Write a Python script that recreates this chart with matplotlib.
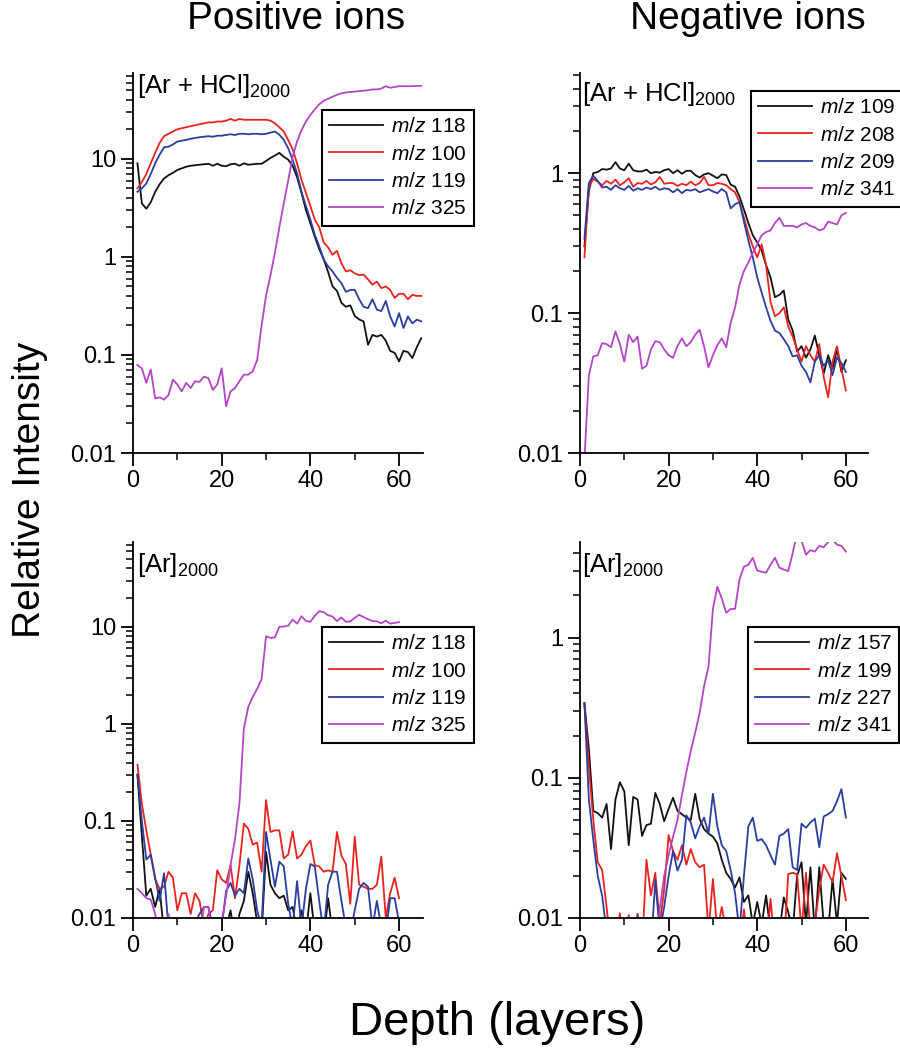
import numpy as np
import matplotlib.pyplot as plt
from matplotlib.ticker import FixedLocator, FuncFormatter, LogLocator, NullFormatter

plt.rcParams['font.family'] = ['Liberation Sans', 'DejaVu Sans']
plt.rcParams['mathtext.fontset'] = 'custom'
plt.rcParams['mathtext.rm'] = 'Liberation Sans'
plt.rcParams['mathtext.it'] = 'Liberation Sans:italic'

# ---- data (relative intensity vs depth in layers) ----
# positive ions, [Ar + HCl]2000, depth 1..65
tl_118 = [9.0, 3.5, 3.1, 3.6, 4.6, 5.5, 6.3, 6.8, 7.2, 7.7,
          8.0, 8.3, 8.5, 8.6, 8.7, 8.8, 8.9, 8.5, 8.9, 8.5,
          8.4, 8.8, 8.9, 8.5, 9.0, 8.7, 8.8, 8.9, 8.9, 9.5,
          10.2, 10.8, 11.5, 10.5, 9.8, 8.5, 6.5, 4.5, 3.0, 2.2,
          1.6, 1.2, 0.95, 0.7, 0.5, 0.45, 0.34, 0.31, 0.32, 0.25,
          0.23, 0.22, 0.127, 0.16, 0.154, 0.16, 0.14, 0.11, 0.105, 0.086,
          0.11, 0.107, 0.093, 0.12, 0.148]
tl_100 = [5.0, 5.8, 7.0, 9.0, 11.5, 14.5, 17.0, 18.0, 19.0, 20.0,
          20.5, 21.0, 21.5, 22.0, 22.5, 23.0, 23.5, 23.5, 24.0, 24.0,
          24.5, 25.5, 24.5, 25.5, 25.0, 25.0, 25.0, 25.0, 25.0, 25.0,
          24.5, 23.0, 21.0, 19.0, 15.5, 12.5, 9.0, 6.1, 4.5, 3.3,
          2.4, 2.0, 1.4, 1.25, 1.05, 1.15, 0.86, 0.71, 0.73, 0.68,
          0.65, 0.66, 0.59, 0.52, 0.56, 0.48, 0.5, 0.46, 0.38, 0.42,
          0.42, 0.37, 0.41, 0.40, 0.40]
tl_119 = [4.6, 5.0, 5.6, 7.0, 9.0, 11.0, 13.1, 13.3, 14.0, 15.0,
          15.3, 15.6, 16.0, 16.3, 16.6, 16.8, 17.0, 16.8, 17.2, 17.2,
          17.5, 17.8, 17.5, 18.0, 18.0, 17.8, 18.0, 18.0, 17.8, 18.0,
          18.5, 19.0, 17.6, 15.6, 12.8, 9.8, 7.1, 4.6, 3.3, 2.4,
          1.68, 1.28, 0.94, 0.8, 0.71, 0.61, 0.54, 0.44, 0.46, 0.46,
          0.37, 0.31, 0.30, 0.37, 0.29, 0.28, 0.355, 0.247, 0.195, 0.267,
          0.188, 0.247, 0.21, 0.229, 0.22]
tl_325 = [0.079, 0.073, 0.052, 0.071, 0.036, 0.037, 0.035, 0.039, 0.056, 0.050,
          0.0425, 0.052, 0.046, 0.054, 0.053, 0.060, 0.058, 0.044, 0.050, 0.073,
          0.030, 0.0425, 0.046, 0.054, 0.063, 0.063, 0.068, 0.089, 0.2, 0.4,
          0.65, 1.1, 2.0, 3.5, 6.0, 10.5, 15.0, 19.5, 24.0, 28.0,
          32.0, 36.0, 39.0, 41.0, 43.0, 45.0, 46.5, 47.5, 48.0, 48.5,
          49.0, 49.5, 50.0, 51.0, 51.0, 52.0, 55.0, 53.0, 54.0, 55.0,
          55.0, 55.0, 55.0, 55.5, 55.5]

# negative ions, [Ar + HCl]2000, depth 1..60
tr_109 = [0.30, 0.75, 1.0, 1.02, 1.07, 1.06, 1.08, 1.2, 1.08, 1.05,
          1.17, 1.05, 1.03, 1.03, 1.06, 1.0, 1.02, 1.01, 1.05, 1.07,
          1.0, 1.05, 0.99, 1.04, 1.04, 0.97, 0.93, 0.98, 1.0, 0.96,
          0.92, 0.98, 0.97, 0.83, 0.80, 0.68, 0.55, 0.44, 0.36, 0.32,
          0.28, 0.22, 0.18, 0.13, 0.135, 0.145, 0.09, 0.075, 0.053, 0.058,
          0.048, 0.055, 0.069, 0.05, 0.037, 0.05, 0.04, 0.055, 0.038, 0.046]
tr_208 = [0.25, 0.8, 0.91, 0.87, 0.82, 0.88, 0.84, 0.9, 0.82, 0.86,
          0.92, 0.8, 0.85, 0.84, 0.88, 0.83, 0.86, 0.94, 0.84, 0.85,
          0.85, 0.81, 0.84, 0.82, 0.87, 0.82, 0.85, 0.94, 0.82, 0.82,
          0.85, 0.84, 0.82, 0.77, 0.73, 0.62, 0.48, 0.37, 0.30, 0.25,
          0.31, 0.22, 0.12, 0.095, 0.10, 0.11, 0.08, 0.068, 0.055, 0.045,
          0.058, 0.05, 0.045, 0.06, 0.035, 0.025, 0.045, 0.058, 0.04, 0.028]
tr_209 = [0.34, 0.85, 0.96, 0.88, 0.79, 0.8, 0.76, 0.82, 0.78, 0.76,
          0.81, 0.75, 0.78, 0.76, 0.79, 0.77, 0.8, 0.76, 0.78, 0.77,
          0.73, 0.77, 0.72, 0.76, 0.75, 0.77, 0.73, 0.75, 0.77, 0.74,
          0.72, 0.77, 0.73, 0.56, 0.6, 0.62, 0.45, 0.33, 0.25, 0.18,
          0.14, 0.11, 0.088, 0.075, 0.072, 0.065, 0.058, 0.049, 0.05, 0.042,
          0.038, 0.032, 0.045, 0.05, 0.042, 0.046, 0.036, 0.048, 0.044, 0.038]
tr_341 = [0.009, 0.036, 0.049, 0.05, 0.061, 0.06, 0.057, 0.074, 0.06, 0.045,
          0.07, 0.062, 0.068, 0.04, 0.042, 0.055, 0.063, 0.062, 0.055, 0.05,
          0.048, 0.058, 0.066, 0.058, 0.062, 0.07, 0.076, 0.058, 0.041, 0.05,
          0.059, 0.066, 0.057, 0.085, 0.11, 0.16, 0.2, 0.23, 0.27, 0.31,
          0.36, 0.38, 0.39, 0.44, 0.48, 0.42, 0.42, 0.42, 0.41, 0.43,
          0.44, 0.42, 0.41, 0.39, 0.40, 0.45, 0.44, 0.43, 0.50, 0.52]

# positive ions, [Ar]2000, depth 1..60
bl_118 = [0.3, 0.07, 0.017, 0.02, 0.013, 0.02, 0.007, 0.007, 0.006, 0.006,
          0.006, 0.006, 0.006, 0.006, 0.006, 0.006, 0.006, 0.006, 0.006, 0.006,
          0.008, 0.012, 0.006, 0.011, 0.015, 0.03, 0.018, 0.009, 0.007, 0.048,
          0.022, 0.018, 0.016, 0.017, 0.012, 0.013, 0.007, 0.012, 0.007, 0.018,
          0.007, 0.006, 0.006, 0.016, 0.007, 0.006, 0.006, 0.006, 0.006, 0.006,
          0.006, 0.006, 0.006, 0.006, 0.006, 0.006, 0.006, 0.006, 0.006, 0.006]
bl_100 = [0.38, 0.15, 0.08, 0.045, 0.025, 0.02, 0.021, 0.03, 0.026, 0.012,
          0.018, 0.018, 0.011, 0.018, 0.015, 0.008, 0.011, 0.012, 0.031, 0.025,
          0.023, 0.035, 0.016, 0.035, 0.094, 0.083, 0.057, 0.06, 0.03, 0.164,
          0.077, 0.08, 0.08, 0.041, 0.045, 0.078, 0.041, 0.045, 0.055, 0.063,
          0.035, 0.034, 0.03, 0.031, 0.03, 0.077, 0.044, 0.036, 0.014, 0.069,
          0.022, 0.021, 0.02, 0.02, 0.022, 0.043, 0.01, 0.018, 0.026, 0.016]
bl_119 = [0.3, 0.1, 0.04, 0.045, 0.026, 0.015, 0.029, 0.008, 0.007, 0.006,
          0.007, 0.006, 0.007, 0.009, 0.011, 0.013, 0.013, 0.008, 0.006, 0.008,
          0.019, 0.023, 0.017, 0.02, 0.018, 0.041, 0.025, 0.012, 0.008, 0.077,
          0.04, 0.021, 0.038, 0.034, 0.014, 0.008, 0.024, 0.008, 0.02, 0.036,
          0.034, 0.015, 0.007, 0.022, 0.03, 0.03, 0.015, 0.008, 0.007, 0.012,
          0.02, 0.023, 0.021, 0.008, 0.015, 0.008, 0.007, 0.016, 0.016, 0.009]
bl_325 = [0.02, 0.018, 0.016, 0.0155, 0.011, 0.006, 0.006, 0.011, 0.006, 0.006,
          0.006, 0.006, 0.006, 0.006, 0.006, 0.013, 0.013, 0.006, 0.006, 0.009,
          0.017, 0.035, 0.065, 0.15, 0.9, 1.5, 1.9, 2.3, 2.9, 8.0,
          7.7, 7.8, 10.0, 10.1, 10.3, 11.9, 10.8, 12.9, 11.5, 11.3,
          13.0, 14.5, 14.2, 13.2, 12.8, 11.5, 12.5, 11.3, 11.4, 12.4,
          13.3, 12.6, 12.0, 11.5, 11.4, 10.9, 11.6, 10.8, 11.0, 11.2]

# negative ions, [Ar]2000, depth 1..60
br_157 = [0.34, 0.16, 0.058, 0.056, 0.052, 0.065, 0.031, 0.07, 0.093, 0.08,
          0.033, 0.073, 0.07, 0.0385, 0.046, 0.047, 0.078, 0.065, 0.049, 0.06,
          0.072, 0.058, 0.055, 0.052, 0.05, 0.077, 0.051, 0.043, 0.04, 0.038,
          0.034, 0.026, 0.021, 0.019, 0.0165, 0.0195, 0.013, 0.0145, 0.009, 0.013,
          0.009, 0.0145, 0.008, 0.008, 0.008, 0.014, 0.011, 0.008, 0.02, 0.025,
          0.009, 0.023, 0.008, 0.023, 0.009, 0.008, 0.019, 0.009, 0.021, 0.019]
br_199 = [0.34, 0.12, 0.05, 0.025, 0.022, 0.012, 0.006, 0.006, 0.0108, 0.006,
          0.0105, 0.006, 0.0107, 0.006, 0.026, 0.0145, 0.021, 0.009, 0.016, 0.039,
          0.03, 0.026, 0.033, 0.024, 0.031, 0.025, 0.023, 0.024, 0.008, 0.019,
          0.008, 0.012, 0.008, 0.006, 0.006, 0.006, 0.0115, 0.006, 0.006, 0.006,
          0.006, 0.006, 0.0137, 0.006, 0.006, 0.006, 0.0206, 0.021, 0.0205, 0.008,
          0.021, 0.008, 0.009, 0.016, 0.024, 0.021, 0.018, 0.029, 0.02, 0.0134]
br_227 = [0.34, 0.07, 0.036, 0.02, 0.0144, 0.008, 0.006, 0.006, 0.006, 0.006,
          0.006, 0.006, 0.0105, 0.006, 0.006, 0.006, 0.0186, 0.008, 0.012, 0.02,
          0.03, 0.0218, 0.026, 0.054, 0.048, 0.037, 0.045, 0.052, 0.04, 0.077,
          0.045, 0.033, 0.03, 0.022, 0.015, 0.008, 0.02, 0.045, 0.052, 0.0355,
          0.0365, 0.033, 0.028, 0.024, 0.0385, 0.04, 0.043, 0.023, 0.022, 0.047,
          0.044, 0.048, 0.051, 0.032, 0.053, 0.055, 0.058, 0.068, 0.083, 0.052]
br_341 = [0.004, 0.004, 0.004, 0.004, 0.004, 0.004, 0.004, 0.004, 0.004, 0.004,
          0.004, 0.004, 0.004, 0.004, 0.004, 0.004, 0.004, 0.0116, 0.02, 0.028,
          0.038, 0.05, 0.075, 0.11, 0.155, 0.21, 0.29, 0.45, 0.62, 1.6,
          2.3, 1.9, 1.5, 1.6, 1.6, 2.6, 3.2, 3.3, 3.7, 3.0,
          2.95, 2.9, 3.3, 3.7, 3.15, 3.05, 2.98, 4.0, 5.6, 4.9,
          3.9, 4.2, 4.1, 4.5, 4.4, 4.8, 5.0, 4.6, 4.5, 4.1]

pos_labels = ['118', '100', '119', '325']
neg_top_labels = ['109', '208', '209', '341']
neg_bot_labels = ['157', '199', '227', '341']

colors = ['#111111', '#e8231f', '#2b3d9e', '#b445c4']

W, H = 900, 1050
fig = plt.figure(figsize=(W / 100, H / 100), dpi=100)


def rect(x0, y0, x1, y1):
    return [x0 / W, 1 - y1 / H, (x1 - x0) / W, (y1 - y0) / H]


panels = [
    # axes rect, series, labels, ylim, xmax, tag, tag pos, legend pos
    (rect(133, 73, 423, 453), [tl_118, tl_100, tl_119, tl_325], pos_labels,
     (0.01, 75), 65.4, '[Ar + HCl]', (137, 93), (322, 110)),
    (rect(580, 73, 868, 453), [tr_109, tr_208, tr_209, tr_341], neg_top_labels,
     (0.01, 5.2), 65.0, '[Ar + HCl]', (582, 101), (751, 91)),
    (rect(133, 542, 423, 918), [bl_118, bl_100, bl_119, bl_325], pos_labels,
     (0.01, 75), 65.4, '[Ar]', (137, 572), (322, 627)),
    (rect(580, 542, 868, 918), [br_157, br_199, br_227, br_341], neg_bot_labels,
     (0.01, 4.8), 65.0, '[Ar]', (582, 572), (748, 627)),
]

for pos, series, labels, ylim, xmax, tag, tagpos, legpos in panels:
    ax = fig.add_axes(pos)
    handles = []
    for vals, c in zip(series, colors):
        x = np.arange(1, len(vals) + 1)
        h, = ax.plot(x, vals, color=c, lw=1.3)
        handles.append(h)
    ax.set_yscale('log')
    ax.set_ylim(*ylim)
    ax.set_xlim(0, xmax)
    ax.spines['top'].set_visible(False)
    ax.spines['right'].set_visible(False)
    ax.spines['left'].set_linewidth(1.3)
    ax.spines['bottom'].set_linewidth(1.3)
    ax.xaxis.set_major_locator(FixedLocator([0, 20, 40, 60]))
    ax.xaxis.set_minor_locator(FixedLocator([10, 30, 50]))
    ax.yaxis.set_major_locator(LogLocator(base=10))
    ax.yaxis.set_minor_locator(LogLocator(base=10, subs=np.arange(2, 10)))
    ax.yaxis.set_minor_formatter(NullFormatter())
    ax.yaxis.set_major_formatter(FuncFormatter(lambda v, _: '%g' % v))
    ax.tick_params(which='major', direction='out', length=9, width=1.3,
                   labelsize=17, pad=3)
    ax.tick_params(which='minor', direction='out', length=5, width=1.1)

    leg = ax.legend(handles, [r'$\mathit{m/z}$ ' + s for s in labels],
                    loc='upper left',
                    bbox_to_anchor=(legpos[0] / W, 1 - legpos[1] / H),
                    bbox_transform=fig.transFigure, fontsize=15,
                    frameon=True, fancybox=False, edgecolor='black',
                    framealpha=1, handlelength=2.6, labelspacing=0.4,
                    borderpad=0.35, handletextpad=0.35, borderaxespad=0)
    leg.get_frame().set_linewidth(1.5)

    fig.text(tagpos[0] / W, 1 - tagpos[1] / H, tag + '$_{2000}$',
             fontsize=18.5, va='baseline', ha='left')

fig.text(296 / W, 1 - 29 / H, 'Positive ions', fontsize=28,
         ha='center', va='baseline')
fig.text(748 / W, 1 - 29 / H, 'Negative ions', fontsize=28,
         ha='center', va='baseline')
fig.text(30 / W, 1 - 490 / H, 'Relative Intensity', fontsize=28,
         rotation=90, ha='center', va='center')
fig.text(497 / W, 1 - 1035 / H, 'Depth (layers)', fontsize=34,
         ha='center', va='baseline')

fig.savefig('out.png', dpi=100)
